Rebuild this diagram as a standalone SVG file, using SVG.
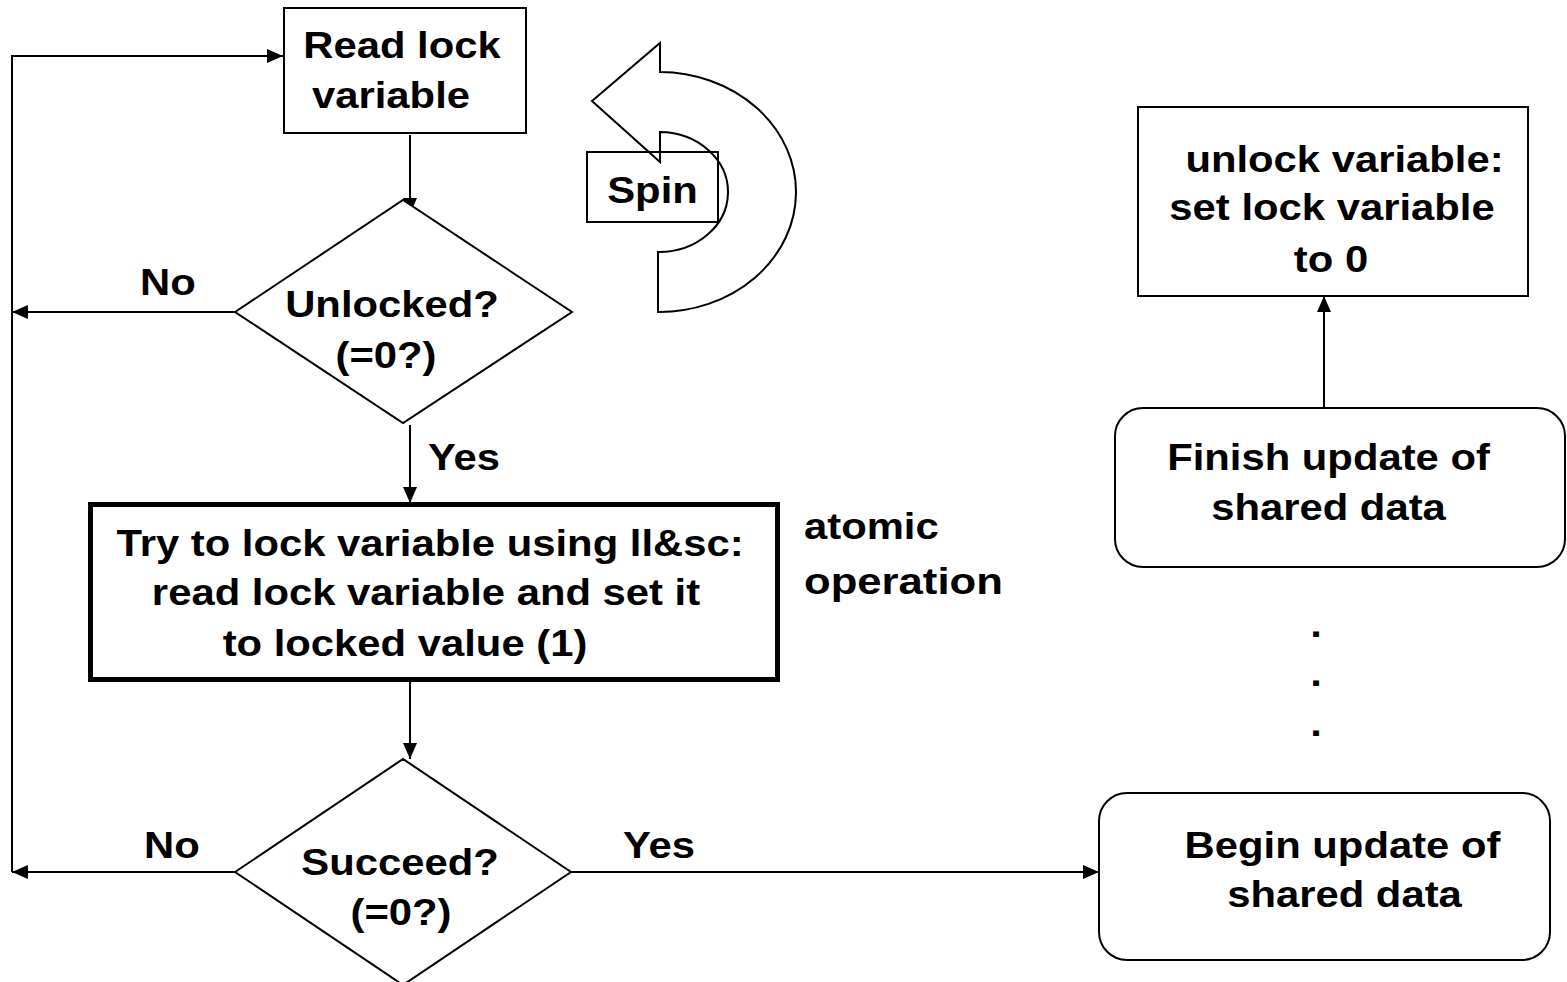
<svg xmlns="http://www.w3.org/2000/svg" width="1567" height="982" viewBox="0 0 1567 982">
<style>
  .t{font-family:"Liberation Sans",Arial,sans-serif;font-weight:bold;font-size:37px;fill:#000}
  .m{text-anchor:middle}
  .s{fill:#fff;stroke:#000;stroke-width:2}
  .n{fill:none;stroke:#000;stroke-width:2}
  .c{fill:none;stroke:#000;stroke-width:2;marker-end:url(#ah)}
</style>
<defs>
  <marker id="ah" markerUnits="userSpaceOnUse" markerWidth="17" markerHeight="15" refX="16" refY="7" orient="auto">
    <path d="M0,0 L16,7 L0,14 Z" fill="#000"/>
  </marker>
</defs>
<rect width="1567" height="982" fill="#fff"/>

<g id="connectors">
  <path class="c" d="M235,312 H12"/>
  <path class="c" d="M235,872 H12"/>
  <path class="c" d="M12,872 V56 H283"/>
  <path class="c" d="M410,135 V214"/>
  <path class="c" d="M410,425 V503"/>
  <path class="c" d="M410,682 V759"/>
  <path class="c" d="M570,872 H1099"/>
  <path class="c" d="M1324,408 V296"/>
</g>

<g id="read-lock">
  <rect class="s" x="284" y="8" width="242" height="125"/>
  <g transform="translate(402 0) scale(1.13 1)"><text class="t m" x="0" y="58">Read lock</text></g>
  <g transform="translate(391 0) scale(1.13 1)"><text class="t m" x="0" y="108">variable</text></g>
</g>

<g id="unlocked">
  <polygon class="s" points="235,312 403,200 572,312 403,423"/>
  <g transform="translate(392 0) scale(1.13 1)"><text class="t m" x="0" y="317">Unlocked?</text></g>
  <g transform="translate(386 0) scale(1.13 1)"><text class="t m" x="0" y="368">(=0?)</text></g>
</g>

<g id="label-no-1"><g transform="translate(140 0) scale(1.13 1)"><text class="t" x="0" y="295">No</text></g></g>
<g id="label-yes-1"><g transform="translate(428 0) scale(1.13 1)"><text class="t" x="0" y="470">Yes</text></g></g>

<g id="try-lock">
  <rect x="90.5" y="504.5" width="687" height="175" fill="#fff" stroke="#000" stroke-width="5"/>
  <g transform="translate(430 0) scale(1.13 1)"><text class="t m" x="0" y="556">Try to lock variable using ll&amp;sc:</text></g>
  <g transform="translate(426 0) scale(1.13 1)"><text class="t m" x="0" y="605">read lock variable and set it</text></g>
  <g transform="translate(405 0) scale(1.13 1)"><text class="t m" x="0" y="656">to locked value (1)</text></g>
</g>

<g id="atomic-label">
  <g transform="translate(804 0) scale(1.13 1)"><text class="t" x="0" y="539">atomic</text></g>
  <g transform="translate(804 0) scale(1.18 1)"><text class="t" x="0" y="594">operation</text></g>
</g>

<g id="succeed">
  <polygon class="s" points="235,872 403,759 571,872 403,985"/>
  <g transform="translate(400 0) scale(1.13 1)"><text class="t m" x="0" y="875">Succeed?</text></g>
  <g transform="translate(401 0) scale(1.13 1)"><text class="t m" x="0" y="925">(=0?)</text></g>
</g>

<g id="label-no-2"><g transform="translate(144 0) scale(1.13 1)"><text class="t" x="0" y="858">No</text></g></g>
<g id="label-yes-2"><g transform="translate(623 0) scale(1.13 1)"><text class="t" x="0" y="858">Yes</text></g></g>

<g id="spin">
  <path class="n" d="M592,101 L660,43 L660,72 A137,120 0 0 1 658,312 L658,252 A69,60 0 0 0 660,132 L660,162 Z"/>
  <rect class="n" x="587" y="152" width="131" height="70"/>
  <g transform="translate(652.5 0) scale(1.13 1)"><text class="t m" x="0" y="203">Spin</text></g>
</g>

<g id="unlock">
  <rect class="s" x="1138" y="107" width="390" height="189"/>
  <g transform="translate(1344.5 0) scale(1.13 1)"><text class="t m" x="0" y="172">unlock variable:</text></g>
  <g transform="translate(1332 0) scale(1.13 1)"><text class="t m" x="0" y="220">set lock variable</text></g>
  <g transform="translate(1331 0) scale(1.13 1)"><text class="t m" x="0" y="272">to 0</text></g>
</g>

<g id="finish">
  <rect class="s" x="1115" y="408" width="450" height="159" rx="28" ry="28"/>
  <g transform="translate(1328.5 0) scale(1.13 1)"><text class="t m" x="0" y="470">Finish update of</text></g>
  <g transform="translate(1328.5 0) scale(1.13 1)"><text class="t m" x="0" y="520">shared data</text></g>
</g>

<g id="dots">
  <g transform="translate(1316 0) scale(1.13 1)">
    <text class="t m" x="0" y="637">.</text>
    <text class="t m" x="0" y="686">.</text>
    <text class="t m" x="0" y="736">.</text>
  </g>
</g>

<g id="begin">
  <rect class="s" x="1099" y="793" width="451" height="167" rx="28" ry="28"/>
  <g transform="translate(1342.5 0) scale(1.13 1)"><text class="t m" x="0" y="858">Begin update of</text></g>
  <g transform="translate(1344.5 0) scale(1.13 1)"><text class="t m" x="0" y="907">shared data</text></g>
</g>
</svg>
